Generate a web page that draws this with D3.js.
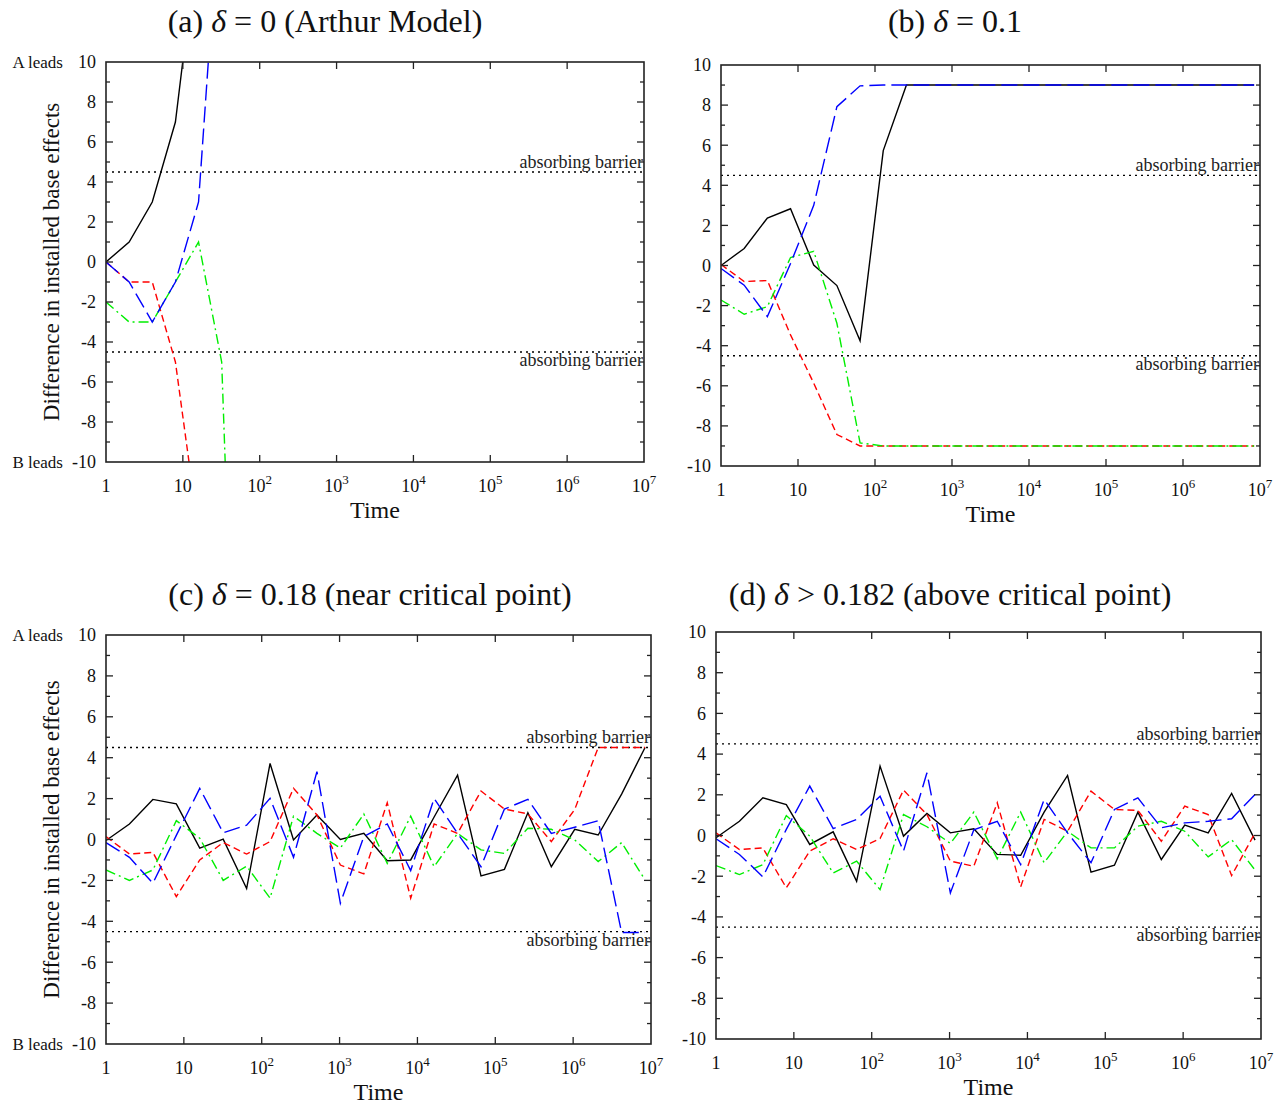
<!DOCTYPE html>
<html>
<head>
<meta charset="utf-8">
<script src="https://cdn.jsdelivr.net/npm/d3@7"></script>
<style>
  html, body { margin: 0; padding: 0; background: #fff; }
  svg { display: block; }
</style>
</head>
<body>
<div id="chart"></div>
<script>
// Four log-time panels of installed-base difference, one per delta value.

const times = [1, 2, 4, 8, 16, 32, 64, 128, 256, 512, 1024, 2048, 4096, 8192,
  16384, 32768, 65536, 131072, 262144, 524288, 1048576, 2097152, 4194304, 8388608];

const xTicks = [1, 10, 100, 1e3, 1e4, 1e5, 1e6, 1e7];
const yTicks = [-10, -8, -6, -4, -2, 0, 2, 4, 6, 8, 10];
const barriers = [4.5, -4.5];

// (a) delta = 0 : paths leave the window quickly (clipped)
const aBlack = [0, 1, 3, 7, 16.5];
const aRed   = [0, -1, -1, -5, -13.5];
const aBlue  = [0, -1, -3, -1, 3, 19.6];
const aGreen = [-2, -3, -3, -1, 1, -5, -38];

// (b) delta = 0.1
const bBlack = [0, 0.85, 2.37, 2.83, 0.02, -1.0, -3.75, 5.73, 9, 9, 9, 9, 9, 9, 9, 9, 9, 9, 9, 9, 9, 9, 9, 9];
const bRed   = [0.05, -0.8, -0.75, -3.46, -5.87, -8.43, -9, -9, -9, -9, -9, -9, -9, -9, -9, -9, -9, -9, -9, -9, -9, -9, -9, -9];
const bBlue  = [-0.15, -0.98, -2.55, 0.1, 3.0, 7.92, 8.96, 9, 9, 9, 9, 9, 9, 9, 9, 9, 9, 9, 9, 9, 9, 9, 9, 9];
const bGreen = [-1.72, -2.43, -2.05, 0.4, 0.71, -2.88, -8.85, -9, -9, -9, -9, -9, -9, -9, -9, -9, -9, -9, -9, -9, -9, -9, -9, -9];

// (c) delta = 0.18
const cBlack = [-0.05, 0.76, 1.96, 1.74, -0.42, 0.02, -2.4, 3.72, -0.02, 1.2, 0.0, 0.3, -1.04, -1.0, 1.1, 3.15, -1.78, -1.46, 1.31, -1.33, 0.5, 0.22, 2.22, 4.5];
const cRed   = [0.14, -0.71, -0.63, -2.79, -1.0, -0.15, -0.71, -0.1, 2.5, 1.2, -1.25, -1.68, 1.8, -2.87, 0.76, 0.3, 2.37, 1.49, 1.25, -0.1, 1.47, 4.5, 4.5, 4.5];
const cBlue  = [-0.15, -0.87, -2.14, 0.2, 2.5, 0.33, 0.7, 2.01, -0.87, 3.32, -3.12, 0.14, 0.76, -1.52, 2.01, 0.3, -1.33, 1.49, 1.96, 0.3, 0.6, 0.92, -4.55, -4.55];
const cGreen = [-1.49, -2.0, -1.49, 0.92, 0.06, -2.0, -1.3, -2.87, 1.14, 0.3, -0.42, 1.25, -1.17, 1.14, -1.33, 0.3, -0.51, -0.68, 0.55, 0.5, -0.02, -1.08, -0.15, -1.98];

// (d) delta > 0.182
const dBlack = [-0.11, 0.7, 1.85, 1.52, -0.44, 0.18, -2.25, 3.41, -0.03, 1.08, 0.13, 0.33, -0.93, -0.97, 1.15, 2.95, -1.8, -1.46, 1.15, -1.18, 0.51, 0.13, 2.07, -0.23];
const dRed   = [0.13, -0.69, -0.61, -2.57, -0.77, -0.16, -0.69, -0.15, 2.23, 1.03, -1.26, -1.51, 1.61, -2.52, 0.79, 0.2, 2.18, 1.28, 1.23, -0.28, 1.44, 1.03, -1.97, 0.13];
const dBlue  = [-0.16, -0.93, -2.03, 0.3, 2.43, 0.34, 0.79, 1.93, -0.77, 3.08, -2.82, 0.28, 0.7, -1.43, 1.77, 0.13, -1.34, 1.28, 1.85, 0.38, 0.62, 0.7, 0.82, 2.02];
const dGreen = [-1.48, -1.92, -1.43, 0.98, -0.03, -1.84, -1.26, -2.66, 1.03, 0.43, -0.39, 1.15, -1.15, 1.15, -1.34, 0.21, -0.61, -0.61, 0.46, 0.7, 0.21, -1.05, -0.2, -1.7];

const STYLES = {
  black: { color: "#000000", dash: null },
  red:   { color: "#ff0000", dash: "7,4" },
  green: { color: "#00ee00", dash: "10,4,2,4" },
  blue:  { color: "#0000ff", dash: "16,6" }
};

const panels = [
  { id: "a", prefix: "(a) ", rest: " = 0 (Arthur Model)", tx: 325, ty: 32,
    box: { l: 106, r: 644, t: 62, b: 462 }, yTitle: true,
    series: { green: aGreen, red: aRed, blue: aBlue, black: aBlack } },
  { id: "b", prefix: "(b) ", rest: " = 0.1", tx: 955, ty: 32,
    box: { l: 721, r: 1260, t: 65, b: 466 }, yTitle: false,
    series: { green: bGreen, red: bRed, blue: bBlue, black: bBlack } },
  { id: "c", prefix: "(c) ", rest: " = 0.18 (near critical point)", tx: 370, ty: 605,
    box: { l: 106, r: 651, t: 635, b: 1044 }, yTitle: true,
    series: { green: cGreen, red: cRed, blue: cBlue, black: cBlack } },
  { id: "d", prefix: "(d) ", rest: " > 0.182 (above critical point)", tx: 950, ty: 605,
    box: { l: 716, r: 1261, t: 632, b: 1039 }, yTitle: false,
    series: { green: dGreen, red: dRed, blue: dBlue, black: dBlack } }
];

const W = 1285, H = 1105;
const serif = "'Liberation Serif', 'DejaVu Serif', serif";
const axisColor = "#222";

const svg = d3.select("#chart").append("svg")
  .attr("width", W).attr("height", H)
  .attr("viewBox", `0 0 ${W} ${H}`);

panels.forEach(p => {
  const { l, r, t, b } = p.box;
  const x = d3.scaleLog().domain([1, 1e7]).range([l, r]);
  const y = d3.scaleLinear().domain([-10, 10]).range([b, t]);
  const g = svg.append("g");

  // Title
  const title = g.append("text")
    .attr("x", p.tx).attr("y", p.ty)
    .attr("text-anchor", "middle")
    .attr("font-family", serif)
    .attr("font-size", "32px")
    .attr("fill", "#111");
  title.append("tspan").text(p.prefix);
  title.append("tspan").attr("font-style", "italic").text("δ");
  title.append("tspan").text(p.rest);

  // Clip for the data lines
  g.append("clipPath").attr("id", `clip-${p.id}`)
    .append("rect")
      .attr("x", l).attr("y", t)
      .attr("width", r - l).attr("height", b - t);

  // Absorbing barriers
  barriers.forEach(v => {
    g.append("line")
      .attr("x1", l).attr("x2", r)
      .attr("y1", y(v)).attr("y2", y(v))
      .attr("stroke", "#000")
      .attr("stroke-width", 1.3)
      .attr("stroke-dasharray", "2,4");
    g.append("text")
      .attr("x", r - 1)
      .attr("y", v > 0 ? y(v) - 4 : y(v) + 14)
      .attr("text-anchor", "end")
      .attr("font-family", serif)
      .attr("font-size", "18px")
      .attr("fill", "#222")
      .text("absorbing barrier");
  });

  // Data lines
  const line = d3.line()
    .x((d, i) => x(times[i]))
    .y(d => y(d));

  ["black", "red", "green", "blue"].forEach(k => {
    const st = STYLES[k];
    g.append("path")
      .datum(p.series[k])
      .attr("clip-path", `url(#clip-${p.id})`)
      .attr("d", line)
      .attr("fill", "none")
      .attr("stroke", st.color)
      .attr("stroke-width", 1.4)
      .attr("stroke-dasharray", st.dash);
  });

  // Inward ticks on all four sides
  const tickStroke = (sel) => sel.attr("stroke", axisColor).attr("stroke-width", 1.3);
  xTicks.forEach(v => {
    if (v === 1 || v === 1e7) return;
    tickStroke(g.append("line").attr("x1", x(v)).attr("x2", x(v)).attr("y1", b).attr("y2", b - 7));
    tickStroke(g.append("line").attr("x1", x(v)).attr("x2", x(v)).attr("y1", t).attr("y2", t + 7));
  });
  d3.range(-9, 10).forEach(v => {
    const len = v % 2 === 0 ? 7 : 4;
    tickStroke(g.append("line").attr("x1", l).attr("x2", l + len).attr("y1", y(v)).attr("y2", y(v)));
    tickStroke(g.append("line").attr("x1", r).attr("x2", r - len).attr("y1", y(v)).attr("y2", y(v)));
  });

  // Frame
  g.append("rect")
    .attr("x", l).attr("y", t)
    .attr("width", r - l).attr("height", b - t)
    .attr("fill", "none")
    .attr("stroke", axisColor)
    .attr("stroke-width", 1.6);

  // Y tick labels
  yTicks.forEach(v => {
    g.append("text")
      .attr("x", l - 10).attr("y", y(v))
      .attr("dy", "0.35em")
      .attr("text-anchor", "end")
      .attr("font-family", serif)
      .attr("font-size", "18px")
      .attr("fill", "#111")
      .text(v);
  });

  // X tick labels (powers of ten with superscript)
  xTicks.forEach(v => {
    const e = Math.round(Math.log10(v));
    const tx = g.append("text")
      .attr("x", x(v)).attr("y", b + 30)
      .attr("text-anchor", "middle")
      .attr("font-family", serif)
      .attr("font-size", "18px")
      .attr("fill", "#111");
    if (e === 0) tx.text("1");
    else if (e === 1) tx.text("10");
    else {
      tx.append("tspan").text("10");
      tx.append("tspan").attr("dy", "-8").attr("font-size", "13px").text(e);
    }
  });

  // X axis title
  g.append("text")
    .attr("x", (l + r) / 2).attr("y", b + 56)
    .attr("text-anchor", "middle")
    .attr("font-family", serif)
    .attr("font-size", "24px")
    .attr("fill", "#111")
    .text("Time");

  if (p.yTitle) {
    g.append("text")
      .attr("transform", `translate(${l - 47},${(t + b) / 2}) rotate(-90)`)
      .attr("text-anchor", "middle")
      .attr("font-family", serif)
      .attr("font-size", "23px")
      .attr("fill", "#111")
      .text("Difference in installed base effects");
    [["A leads", 10], ["B leads", -10]].forEach(([s, v]) => {
      g.append("text")
        .attr("x", 63).attr("y", y(v))
        .attr("dy", "0.35em")
        .attr("text-anchor", "end")
        .attr("font-family", serif)
        .attr("font-size", "17px")
        .attr("fill", "#111")
        .text(s);
    });
  }
});
</script>
</body>
</html>
